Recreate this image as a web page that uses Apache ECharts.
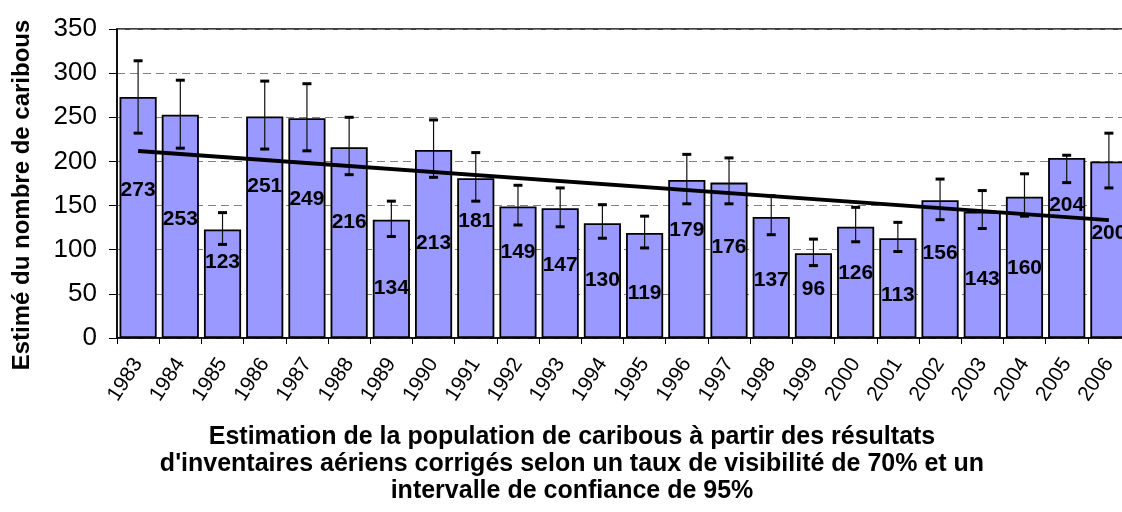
<!DOCTYPE html>
<html>
<head>
<meta charset="utf-8">
<script src="https://cdn.jsdelivr.net/npm/echarts@6/dist/echarts.min.js"></script>
<style>
  html, body { margin: 0; padding: 0; background: #fff; }
  #chart { width: 1122px; height: 512px; }
</style>
</head>
<body>
<div id="chart"></div>
<script>
(function() {
    var years = ['1983','1984','1985','1986','1987','1988','1989','1990','1991','1992','1993','1994',
                 '1995','1996','1997','1998','1999','2000','2001','2002','2003','2004','2005','2006'];
    var estimates = [273, 253, 123, 251, 249, 216, 134, 213, 181, 149, 147, 130,
                     119, 179, 176, 137, 96, 126, 113, 156, 143, 160, 204, 200];
    // bornes de l'intervalle de confiance (95%)
    var lower = [232, 215, 106, 214, 212, 185, 115, 182, 155, 128, 126, 113,
                 102, 152, 152, 117, 82, 109, 98, 134, 124, 138, 176, 170];
    var upper = [314, 292, 142, 291, 288, 250, 155, 247, 210, 173, 170, 151,
                 138, 208, 204, 161, 112, 148, 131, 180, 167, 186, 207, 232];
    // tendance linéaire (extrémités)
    var trend = [['1983', 211.8], ['2006', 133.6]];
    // hauteur (en unités de l'axe) où chaque étiquette est posée
    var labelAt = [167, 134, 86, 172, 157, 131, 56, 107, 132, 97, 82, 65,
                   51, 122, 103, 65, 55, 73, 49, 96, 67, 79, 150, 119];

    var font = '"Liberation Sans", Arial, sans-serif';
    var myChart = echarts.init(document.getElementById('chart'));

    var option = {
        animation: false,
        backgroundColor: '#fff',
        grid: {
            left: 117, top: 29, width: 1013, height: 309,
            containLabel: false,
            outerBoundsMode: 'none',
            show: true, borderColor: '#000', borderWidth: 1.5
        },
        xAxis: {
            type: 'category',
            data: years,
            axisLine: { lineStyle: { color: '#000', width: 1.5 } },
            axisTick: { show: true, length: 6, lineStyle: { color: '#000' } },
            axisLabel: {
                rotate: 57, margin: 22, interval: 0,
                fontFamily: font, fontSize: 21, color: '#000'
            }
        },
        yAxis: {
            type: 'value',
            min: 0, max: 350, interval: 50,
            axisLine: { show: true, lineStyle: { color: '#000', width: 1.5 } },
            axisTick: { show: true, length: 8, lineStyle: { color: '#000' } },
            axisLabel: { margin: 20, fontFamily: font, fontSize: 26, color: '#000' },
            splitLine: { lineStyle: { color: '#808080', type: [8, 5], width: 1 } }
        },
        graphic: [{
            type: 'text',
            z: 100,
            x: 22, y: 195,
            rotation: Math.PI / 2,
            style: {
                x: 0, y: 0,
                text: 'Estimé du nombre de caribous',
                textAlign: 'center',
                textVerticalAlign: 'middle',
                fontFamily: font, fontSize: 24, fontWeight: 'bold',
                fill: '#000'
            }
        }, {
            type: 'text',
            z: 100,
            style: {
                x: 572, y: 424,
                text: 'Estimation de la population de caribous à partir des résultats\n' +
                      "d'inventaires aériens corrigés selon un taux de visibilité de 70% et un\n" +
                      'intervalle de confiance de 95%',
                textAlign: 'center',
                textVerticalAlign: 'top',
                fontFamily: font, fontSize: 25, fontWeight: 'bold',
                lineHeight: 27,
                fill: '#000'
            }
        }],
        series: [
            {
                type: 'bar',
                data: estimates,
                barWidth: '88%',
                itemStyle: { color: '#9999FF', borderColor: '#000', borderWidth: 1.8 },
                z: 2
            },
            {
                type: 'custom',
                z: 3,
                data: years.map(function(y, i) { return [i, lower[i], upper[i]]; }),
                renderItem: function(params, api) {
                    var lo = api.coord([api.value(0), api.value(1)]);
                    var hi = api.coord([api.value(0), api.value(2)]);
                    var half = 4.5;
                    return {
                        type: 'group',
                        children: [
                            { type: 'line', shape: { x1: lo[0], y1: lo[1], x2: hi[0], y2: hi[1] },
                              style: { stroke: '#111', lineWidth: 1.2 } },
                            { type: 'line', shape: { x1: lo[0] - half, y1: lo[1], x2: lo[0] + half, y2: lo[1] },
                              style: { stroke: '#000', lineWidth: 3 } },
                            { type: 'line', shape: { x1: hi[0] - half, y1: hi[1], x2: hi[0] + half, y2: hi[1] },
                              style: { stroke: '#000', lineWidth: 3 } }
                        ]
                    };
                }
            },
            {
                type: 'line',
                data: trend,
                symbol: 'none',
                lineStyle: { color: '#000', width: 3.8 },
                z: 4
            },
            {
                type: 'custom',
                z: 5,
                data: years.map(function(y, i) { return [i, labelAt[i], estimates[i]]; }),
                renderItem: function(params, api) {
                    var p = api.coord([api.value(0), api.value(1)]);
                    return {
                        type: 'text',
                        style: {
                            x: p[0], y: p[1],
                            text: String(api.value(2)),
                            textAlign: 'center', textVerticalAlign: 'middle',
                            fontFamily: font, fontSize: 21, fontWeight: 'bold',
                            fill: '#000'
                        }
                    };
                }
            }
        ]
    };

    myChart.setOption(option);
    window.addEventListener('resize', function() {
        myChart.resize();
    });
})();
</script>
</body>
</html>
